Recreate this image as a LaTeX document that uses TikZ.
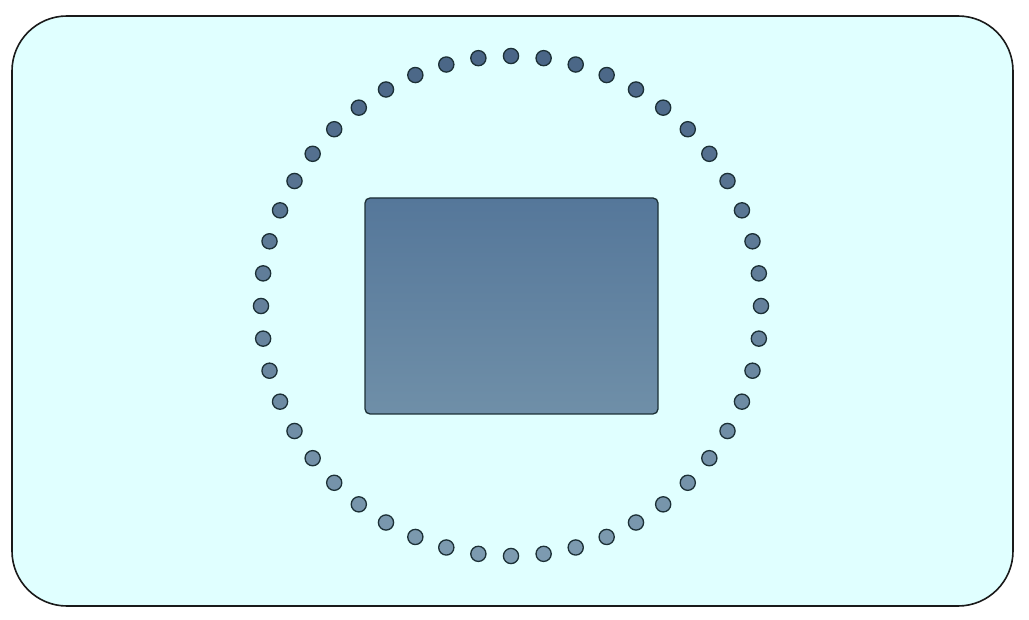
\documentclass[tikz,border=0pt]{standalone}
\usepackage{xcolor}
\usepackage{tikz}
\definecolor{tablecyan}{HTML}{E0FFFF}
\definecolor{edgedark}{HTML}{1C3036}
\definecolor{roomedge}{HTML}{1A1A1A}
\definecolor{seattop}{HTML}{4A6687}
\definecolor{seatbot}{HTML}{7D9BB0}
\definecolor{boardtop}{HTML}{55779A}
\definecolor{boardbot}{HTML}{6F8FA8}

\begin{document}
\begin{tikzpicture}
	[x=1pt,y=-1pt,
	outline/.style={draw=edgedark,line width=1.3pt},
	seat/.style={outline},
	board/.style={outline,rounded corners=5pt,top color=boardtop,bottom color=boardbot}]
	\useasboundingbox (0,0) rectangle (1029,620);
	% room
	\draw[draw=roomedge,line width=1.6pt,fill=tablecyan,rounded corners=55pt] (12,16) rectangle (1013,606);
	% table in the middle
	\node[board,minimum width=293pt,minimum height=216pt,inner sep=0pt] (table) at (511.5,306) {};
	% ring of seats
	\foreach \i in {0,...,47}{
		\pgfmathsetmacro{\sx}{511+250*sin(\i*7.5)}
		\pgfmathsetmacro{\sy}{306-250*cos(\i*7.5)}
		\pgfmathtruncatemacro{\shade}{(\sy-56)/5}
		\colorlet{seatfill}{seatbot!\shade!seattop}
		\draw[seat,fill=seatfill] (\sx,\sy) circle (7.6pt);
	}
\end{tikzpicture}
\end{document}
